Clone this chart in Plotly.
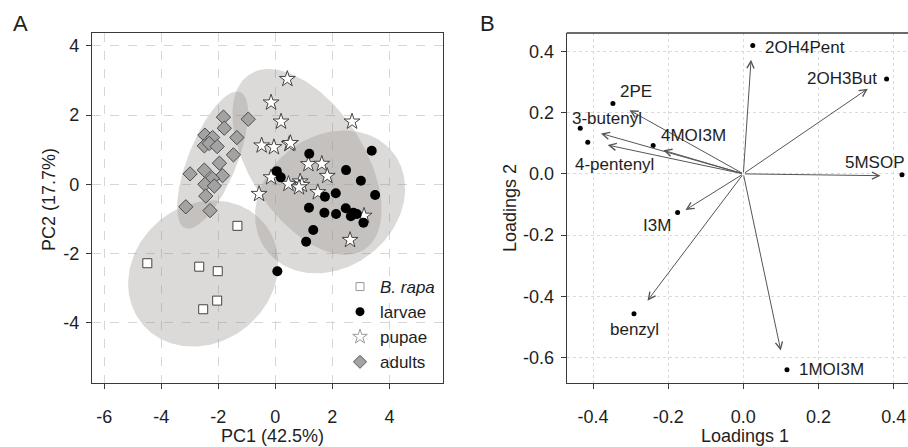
import numpy as np
import plotly.graph_objects as go

# ---------------- Panel A: PCA scores ----------------
rapa_pc1 = [-1.33, -4.49, -2.67, -2.02, -2.04, -2.53]
rapa_pc2 = [-1.20, -2.28, -2.38, -2.51, -3.36, -3.61]

larvae_pc1 = [1.19, 3.38, 0.05, 0.19, 2.48, 3.00, 2.12, 3.50, 1.74, 1.18,
              1.72, 2.13, 2.47, 2.65, 2.74, 2.86, 3.09, 1.33, 1.08, 0.07]
larvae_pc2 = [0.88, 0.97, 0.38, 0.20, 0.41, 0.10, -0.26, -0.31, -0.36, -0.68,
              -0.82, -0.86, -0.69, -0.92, -0.82, -0.86, -1.11, -1.32, -1.66, -2.51]

pupae_pc1 = [0.42, -0.15, 0.20, 2.69, -0.48, -0.05, 0.49, 0.53, 1.16, 1.63,
             1.82, -0.15, 0.46, 0.87, 0.93, 0.83, -0.57, 1.49, 3.11, 2.62]
pupae_pc2 = [3.04, 2.36, 1.81, 1.81, 1.12, 1.07, 1.16, 1.19, 0.58, 0.59,
             0.24, 0.20, 0.01, 0.08, -0.02, -0.09, -0.28, -0.23, -0.91, -1.61]

adults_pc1 = [-1.82, -0.95, -1.79, -2.47, -2.20, -1.35, -2.49, -2.32, -2.04, -1.47,
              -1.96, -2.99, -2.49, -1.85, -2.21, -2.47, -2.14, -2.44, -3.14, -2.29]
adults_pc2 = [1.94, 1.88, 1.62, 1.42, 1.35, 1.35, 1.11, 1.18, 1.09, 0.85,
              0.61, 0.30, 0.41, 0.25, 0.17, 0.00, -0.05, -0.34, -0.65, -0.76]

# ellipse (group region) centre and conjugate semi-axes, in PC units
ell_group = ["B. rapa", "larvae", "pupae", "adults"]
ell_cx = [-2.53, 1.92, 1.11, -2.20]
ell_cy = [-2.58, -0.51, 0.645, 0.70]
ell_ux = [2.143, 2.224, 2.017, 0.965]
ell_uy = [1.449, 1.410, -2.529, 1.965]
ell_vx = [-1.528, -1.408, 1.666, -0.790]
ell_vy = [1.533, 1.506, 0.901, 0.263]

pc_xticks = [-6, -4, -2, 0, 2, 4]
pc_xticktext = ["-6", "-4", "-2", "0", "2", "4"]
pc_yticks = [-4, -2, 0, 2, 4]
pc_yticktext = ["-4", "-2", "0", "2", "4"]

# ---------------- Panel B: loadings ----------------
compounds = ["2OH4Pent", "2OH3But", "2PE", "3-butenyl", "4-pentenyl",
             "4MOI3M", "5MSOP", "I3M", "benzyl", "1MOI3M"]
load1 = [0.025, 0.381, -0.347, -0.434, -0.414, -0.240, 0.422, -0.175, -0.291, 0.116]
load2 = [0.419, 0.310, 0.230, 0.149, 0.103, 0.093, -0.003, -0.126, -0.457, -0.640]
arrow1 = [0.0205, 0.331, -0.303, -0.379, -0.361, -0.213, 0.365, -0.154, -0.255, 0.0995]
arrow2 = [0.373, 0.278, 0.208, 0.132, 0.094, 0.077, -0.006, -0.118, -0.414, -0.577]

ld_ticks_x = [-0.4, -0.2, 0.0, 0.2, 0.4]
ld_ticktext_x = ["-0.4", "-0.2", "0.0", "0.2", "0.4"]
ld_ticks_y = [-0.6, -0.4, -0.2, 0.0, 0.2, 0.4]
ld_ticktext_y = ["-0.6", "-0.4", "-0.2", "0.0", "0.2", "0.4"]

# label placement styles (anchor, x shift px, y shift px)
label_style = {
    "2OH4Pent": ("left", 10, -2),
    "2OH3But": ("right", -8, 0),
    "2PE": ("left", 5, 12),
    "3-butenyl": ("left", -10, 10),
    "4-pentenyl": ("left", -15, -22),
    "4MOI3M": ("left", 6, 10),
    "5MSOP": ("right", 5, 12),
    "I3M": ("right", -5, -13),
    "benzyl": ("center", 1, -16),
    "1MOI3M": ("left", 10, 0),
}

FONT = "Liberation Sans, Arial, sans-serif"
TXT = "#1e1e1e"
W, H = 908, 447

fig = go.Figure()

# ellipses
t = np.linspace(0, 2 * np.pi, 200)
for i in range(len(ell_group)):
    ex = ell_cx[i] + ell_ux[i] * np.cos(t) + ell_vx[i] * np.sin(t)
    ey = ell_cy[i] + ell_uy[i] * np.cos(t) + ell_vy[i] * np.sin(t)
    fig.add_trace(go.Scatter(x=ex, y=ey, mode="lines", fill="toself",
                             fillcolor="rgba(150,142,138,0.33)", line=dict(width=0),
                             hoverinfo="skip", showlegend=False, xaxis="x", yaxis="y"))

# points
fig.add_trace(go.Scatter(x=rapa_pc1, y=rapa_pc2, mode="markers", showlegend=False,
                         marker=dict(symbol="square", size=9, color="white",
                                     line=dict(color="#444", width=1)), xaxis="x", yaxis="y"))
fig.add_trace(go.Scatter(x=adults_pc1, y=adults_pc2, mode="markers", showlegend=False,
                         marker=dict(symbol="diamond", size=11, color="#a3a3a3",
                                     line=dict(color="#4a4a4a", width=1)), xaxis="x", yaxis="y"))
fig.add_trace(go.Scatter(x=pupae_pc1, y=pupae_pc2, mode="markers", showlegend=False,
                         marker=dict(symbol="star", size=12, color="white",
                                     line=dict(color="#444", width=1)), xaxis="x", yaxis="y"))
fig.add_trace(go.Scatter(x=larvae_pc1, y=larvae_pc2, mode="markers", showlegend=False,
                         marker=dict(symbol="circle", size=10, color="black",
                                     line=dict(width=0)), xaxis="x", yaxis="y"))

# legend entries
leg = [
    ("<i>B. rapa</i>", dict(symbol="square", size=8, color="white", line=dict(color="#999", width=1))),
    ("larvae", dict(symbol="circle", size=9, color="black", line=dict(width=0))),
    ("pupae", dict(symbol="star", size=11, color="white", line=dict(color="#999", width=1))),
    ("adults", dict(symbol="diamond", size=10, color="#a3a3a3", line=dict(color="#555", width=1))),
]
for k, (nm, mk) in enumerate(leg):
    fig.add_trace(go.Scatter(x=[None], y=[None], mode="markers", name=nm, marker=mk,
                             xaxis="x", yaxis="y"))

# panel B dots
fig.add_trace(go.Scatter(x=load1, y=load2, mode="markers", showlegend=False,
                         marker=dict(size=5, color="black"), xaxis="x2", yaxis="y2",
                         cliponaxis=False))

annotations = []
for i, c in enumerate(compounds):
    annotations.append(dict(x=arrow1[i], y=arrow2[i], xref="x2", yref="y2",
                            ax=0, ay=0, axref="x2", ayref="y2", text="", showarrow=True,
                            arrowhead=5, arrowsize=1.4, arrowwidth=1, arrowcolor="#555",
                            standoff=0, startstandoff=0))
    anc, xs, ys = label_style[c]
    annotations.append(dict(x=load1[i], y=load2[i], xref="x2", yref="y2", text=c,
                            showarrow=False, xanchor=anc, yanchor="middle", xshift=xs, yshift=ys,
                            font=dict(family=FONT, size=17, color=TXT)))

def px2paper(xp, yp):
    return xp / W, 1 - yp / H

# panel letters and axis titles
for txt, xp, yp, rot, sz in [("A", 20, 23, 0, 22), ("B", 487, 23, 0, 22),
                             ("PC1 (42.5%)", 272, 436, 0, 18), ("PC2 (17.7%)", 49, 200, -90, 18),
                             ("Loadings 1", 745, 436, 0, 18), ("Loadings 2", 510, 208, -90, 18)]:
    xx, yy = px2paper(xp, yp)
    annotations.append(dict(x=xx, y=yy, xref="paper", yref="paper", text=txt, showarrow=False,
                            xanchor="center", yanchor="middle", textangle=rot,
                            font=dict(family=FONT, size=sz, color=TXT)))

ydom = [(H - 383) / H, (H - 33) / H]
axcommon = dict(showline=True, linecolor="#3a3a3a", linewidth=1.3, ticks="outside",
                ticklen=5, tickcolor="#3a3a3a", tickwidth=1.2, zeroline=False,
                tickfont=dict(family=FONT, size=18, color=TXT))

fig.update_layout(
    width=W, height=H, margin=dict(l=0, r=0, t=0, b=0),
    template="none", paper_bgcolor="white", plot_bgcolor="white",
    showlegend=True,
    legend=dict(x=340 / W, y=1 - 269 / H, xanchor="left", yanchor="top",
                bgcolor="rgba(0,0,0,0)", font=dict(family=FONT, size=17, color=TXT),
                tracegroupgap=0, itemwidth=30),
    xaxis=dict(domain=[92 / W, 443 / W], range=[-6.43, 5.88], tickvals=pc_xticks,
               ticktext=pc_xticktext, mirror=True, showgrid=True, gridcolor="#d6d6d6",
               griddash="dash", gridwidth=1, ticklabelstandoff=12, anchor="y", **axcommon),
    yaxis=dict(domain=ydom, range=[-5.74, 4.37], tickvals=pc_yticks, ticktext=pc_yticktext,
               mirror=True, showgrid=True, gridcolor="#d6d6d6", griddash="dash", gridwidth=1,
               ticklabelstandoff=3, anchor="x", **axcommon),
    xaxis2=dict(domain=[566.7 / W, 1.0], range=[-0.47, 0.438], tickvals=ld_ticks_x,
                ticktext=ld_ticktext_x, mirror=False, showgrid=True, gridcolor="#dadada",
                griddash="dot", gridwidth=1, ticklabelstandoff=12, anchor="y2", **axcommon),
    yaxis2=dict(domain=ydom, range=[-0.683, 0.46], tickvals=ld_ticks_y, ticktext=ld_ticktext_y,
                mirror=False, showgrid=True, gridcolor="#dadada", griddash="dot", gridwidth=1,
                ticklabelstandoff=3, anchor="x2", **axcommon),
    annotations=annotations,
)
# top border of panel B
fig.add_shape(type="line", xref="x2 domain", yref="y2 domain", x0=0, x1=1, y0=1, y1=1,
              line=dict(color="#3a3a3a", width=1.3))

fig.write_html("out.html", config={"displayModeBar": False},
               post_script="document.body.style.margin='0';document.body.style.overflow='hidden';")
